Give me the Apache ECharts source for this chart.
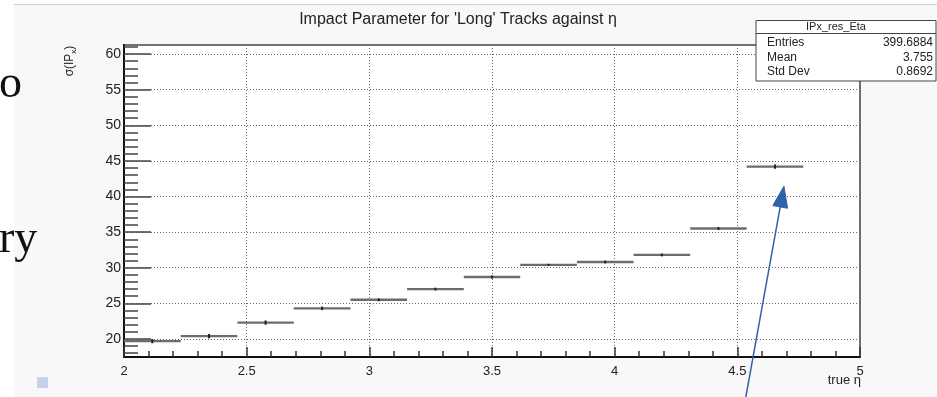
<!DOCTYPE html>
<html><head><meta charset="utf-8">
<script src="https://cdn.jsdelivr.net/npm/echarts@6/dist/echarts.min.js"></script>
<style>html,body{margin:0;padding:0;background:#fff;}#c{width:937px;height:397px;}</style>
</head><body><div id="c"></div>
<script>
// ---- data ----
const binLow  = [2.000, 2.231, 2.462, 2.692, 2.923, 3.154, 3.385, 3.615, 3.846, 4.077, 4.308, 4.538];
const binHigh = [2.231, 2.462, 2.692, 2.923, 3.154, 3.385, 3.615, 3.846, 4.077, 4.308, 4.538, 4.769];
const values  = [19.7, 20.4, 22.3, 24.3, 25.5, 27.0, 28.7, 30.4, 30.8, 31.8, 35.5, 44.2];
const errors  = [0.30, 0.30, 0.30, 0.25, 0.20, 0.20, 0.20, 0.15, 0.20, 0.20, 0.20, 0.30];
const yMajorTicks = [20, 25, 30, 35, 40, 45, 50, 55, 60];
const xTickLabels = [2, 2.5, 3, 3.5, 4, 4.5, 5];
const statsLabels = ['Entries', 'Mean', 'Std Dev'];
const statsValues = ['399.6884', '3.755', '0.8692'];
const arrowTail = [4.534, 11.74];
const arrowTip  = [4.690, 41.44];

const yMin = 17.47, yMax = 61.27;
const yMinorTicks = [];
for (let v = 18; v <= 61; v++) if (yMajorTicks.indexOf(v) < 0) yMinorTicks.push(v);

const rows = values.map((v, i) => [binLow[i], binHigh[i], v, errors[i]]);
const FONT = 'Liberation Sans, Arial, sans-serif';
const GRID_LINE = {color: '#666', width: 1, type: [1, 2]};

const chart = echarts.init(document.getElementById('c'), null, {renderer: 'canvas'});
chart.setOption({
  animation: false,
  backgroundColor: '#ffffff',
  grid: {left: 124, right: 77, top: 45, bottom: 40, show: true, backgroundColor: '#ffffff',
         borderColor: '#444', borderWidth: 1.5},
  xAxis: {
    type: 'value', min: 2, max: 5, interval: 0.5,
    axisLine: {show: true, onZero: false, lineStyle: {color: '#111', width: 2}},
    axisTick: {show: true, inside: true, length: 10, lineStyle: {color: '#333', width: 1.5}},
    minorTick: {show: true, splitNumber: 5, length: 6, lineStyle: {color: '#333', width: 1.5}},
    axisLabel: {show: true, margin: 8, color: '#222', fontSize: 13, fontFamily: FONT,
                showMinLabel: true, showMaxLabel: true,
                formatter: v => (xTickLabels.indexOf(+v.toFixed(2)) >= 0 ? String(+v.toFixed(2)) : '')},
    splitLine: {show: true, lineStyle: GRID_LINE}
  },
  yAxis: [{
    type: 'value', min: yMin, max: yMax,
    axisLine: {show: true, onZero: false, lineStyle: {color: '#111', width: 2}},
    axisTick: {show: true, inside: true, length: 27, customValues: yMajorTicks,
               lineStyle: {color: '#444', width: 1.5}},
    axisLabel: {show: true, margin: 3, color: '#222', fontSize: 14, fontFamily: FONT,
                customValues: yMajorTicks},
    splitLine: {show: true, lineStyle: GRID_LINE}
  }, {
    type: 'value', min: yMin, max: yMax, position: 'left', offset: 0,
    axisLine: {show: false},
    axisTick: {show: true, inside: true, length: 14, customValues: yMinorTicks,
               lineStyle: {color: '#444', width: 1.5}},
    axisLabel: {show: false},
    splitLine: {show: false}
  }],
  series: [{
    type: 'custom',
    xAxisIndex: 0, yAxisIndex: 0,
    encode: {x: [0, 1], y: 2},
    data: rows,
    z: 5,
    renderItem: function (params, api) {
      const lo = api.value(0), hi = api.value(1), v = api.value(2), e = api.value(3);
      const mid = (lo + hi) / 2;
      const a = api.coord([lo, v]), b = api.coord([hi, v]);
      const t = api.coord([mid, v + e]), d = api.coord([mid, v - e]);
      return {type: 'group', children: [
        {type: 'line', shape: {x1: a[0], y1: a[1], x2: b[0], y2: b[1]},
         style: {stroke: '#6c6c6c', lineWidth: 2.4}},
        {type: 'line', shape: {x1: t[0], y1: t[1], x2: d[0], y2: d[1]},
         style: {stroke: '#222', lineWidth: 2}}
      ]};
    }
  }]
});

// ---- annotations ----
const tail = chart.convertToPixel({gridIndex: 0}, arrowTail);
const tip = chart.convertToPixel({gridIndex: 0}, arrowTip);
const dx = tip[0] - tail[0], dy = tip[1] - tail[1];
const L = Math.sqrt(dx * dx + dy * dy);
const ux = dx / L, uy = dy / L, nx = -uy, ny = ux;
const headLen = 21, headHalf = 7.5;
const bx = tip[0] - headLen * ux, by = tip[1] - headLen * uy;

const statsChildren = [
  {type: 'rect', shape: {x: 756, y: 20.5, width: 180, height: 60.5},
   style: {fill: '#fff', stroke: '#444', lineWidth: 1}},
  {type: 'line', shape: {x1: 756, y1: 33.5, x2: 936, y2: 33.5}, style: {stroke: '#444', lineWidth: 1}},
  {type: 'text', x: 836, y: 27, style: {text: 'IPx_res_Eta', font: '11px ' + FONT, fill: '#222',
   align: 'center', verticalAlign: 'middle'}}
];
statsLabels.forEach((s, i) => {
  statsChildren.push({type: 'text', x: 767, y: 43 + i * 14.5,
    style: {text: s, font: '12px ' + FONT, fill: '#222', align: 'left', verticalAlign: 'middle'}});
  statsChildren.push({type: 'text', x: 933, y: 43 + i * 14.5,
    style: {text: statsValues[i], font: '12px ' + FONT, fill: '#222', align: 'right', verticalAlign: 'middle'}});
});

chart.setOption({
  graphic: [
    {type: 'rect', z: -100, silent: true, shape: {x: 14, y: 4, width: 923, height: 393},
     style: {fill: '#f8f8f8'}},
    {type: 'line', z: -99, silent: true, shape: {x1: 14, y1: 4.5, x2: 937, y2: 4.5},
     style: {stroke: '#d2d2d2', lineWidth: 1}},
    {type: 'text', x: -1, y: 85, style: {text: 'o', font: '46px "Liberation Serif", serif', fill: '#111',
     align: 'left', verticalAlign: 'middle'}},
    {type: 'text', x: -1, y: 240, style: {text: 'ry', font: '46px "Liberation Serif", serif', fill: '#111',
     align: 'left', verticalAlign: 'middle'}},
    {type: 'rect', shape: {x: 37, y: 377, width: 11, height: 11}, style: {fill: '#c3d4e7'}},
    {type: 'text', x: 458, y: 20, style: {text: "Impact Parameter for 'Long' Tracks against η",
     font: '16px ' + FONT, fill: '#222', align: 'center', verticalAlign: 'middle'}},
    {type: 'text', x: 861, y: 380, style: {text: 'true η', font: '13px ' + FONT, fill: '#222',
     align: 'right', verticalAlign: 'middle'}},
    {type: 'text', x: 70, y: 61, rotation: Math.PI / 2,
     style: {text: '{a|σ(IP}{s|x}{a|)}', align: 'center', verticalAlign: 'middle',
       rich: {a: {font: '12px ' + FONT, fill: '#222', lineHeight: 16, verticalAlign: 'middle'},
              s: {font: '8px ' + FONT, fill: '#222', lineHeight: 16, verticalAlign: 'bottom'}}}},
    {type: 'group', z: 100, children: statsChildren},
    {type: 'polyline', z: 110, shape: {points: [tail, [bx, by]]},
     style: {stroke: '#2f62a8', lineWidth: 1.5, fill: null}},
    {type: 'polygon', z: 110, shape: {points: [tip, [bx + headHalf * nx, by + headHalf * ny],
       [bx - headHalf * nx, by - headHalf * ny]]}, style: {fill: '#2f62a8', stroke: '#2f62a8', lineWidth: 1}}
  ]
});
</script></body></html>
